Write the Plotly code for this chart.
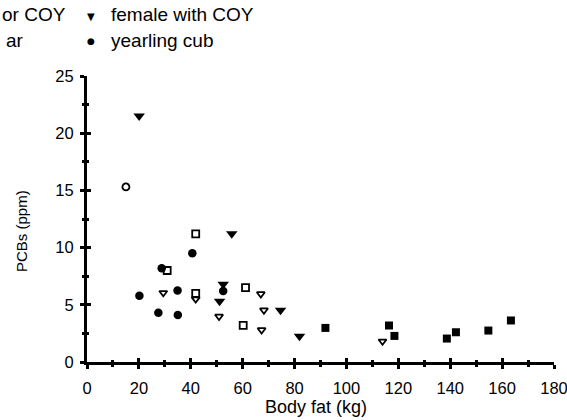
import plotly.graph_objects as go

# ---- data (Body fat kg, PCBs ppm) ----
open_circle_x = [15.0]
open_circle_y = [15.3]

open_square_x = [41.9, 30.9, 41.9, 61.1, 60.2]
open_square_y = [11.2, 8.0, 6.0, 6.5, 3.2]

open_triangle_x = [29.4, 41.9, 50.9, 67.0, 68.2, 67.3, 113.9]
open_triangle_y = [6.05, 5.5, 3.98, 5.95, 4.53, 2.8, 1.81]

female_coy_x = [20.1, 55.8, 52.5, 51.1, 74.6, 81.9]
female_coy_y = [21.5, 11.2, 6.8, 5.3, 4.53, 2.25]

yearling_x = [40.6, 28.8, 20.2, 34.9, 52.5, 27.5, 35.0]
yearling_y = [9.5, 8.2, 5.8, 6.26, 6.2, 4.3, 4.1]

filled_square_x = [91.9, 116.4, 118.5, 138.7, 142.2, 154.7, 163.4]
filled_square_y = [2.98, 3.19, 2.28, 2.05, 2.6, 2.75, 3.63]

x_ticks = [0, 20, 40, 60, 80, 100, 120, 140, 160, 180]
y_ticks = [0, 5, 10, 15, 20, 25]

FONT = "Liberation Sans, Arial, sans-serif"

fig = go.Figure()

def add(x, y, symbol, size, name, lw=0):
    fig.add_trace(go.Scatter(
        x=x, y=y, mode="markers", name=name, showlegend=False,
        marker=dict(symbol=symbol, size=size, color="black",
                    line=dict(color="black", width=lw)),
        xaxis="x", yaxis="y"))

add(open_circle_x, open_circle_y, "circle-open", 7, "open circle", 1.8)
add(open_square_x, open_square_y, "square-open", 7, "open square", 1.8)
add(open_triangle_x, open_triangle_y, "triangle-down-open", 7, "open triangle", 1.8)
add(female_coy_x, female_coy_y, "triangle-down", 10, "female with COY")
add(yearling_x, yearling_y, "circle", 8.5, "yearling cub")
add(filled_square_x, filled_square_y, "square", 8, "filled square")

# invisible trace to realise the overlay axes (inward half of the crossing ticks)
fig.add_trace(go.Scatter(x=[None], y=[None], xaxis="x2", yaxis="y2",
                         showlegend=False, hoverinfo="skip", mode="markers"))

axis_font = dict(family=FONT, size=16.5, color="black")

fig.update_layout(
    width=567, height=420,
    margin=dict(l=87, r=13, t=76, b=58, autoexpand=False),
    paper_bgcolor="white", plot_bgcolor="white",
    font=dict(family=FONT, color="black"),
    xaxis=dict(
        range=[0, 180], tickvals=x_ticks, ticktext=[str(v) for v in x_ticks],
        showline=True, linewidth=3, linecolor="black",
        ticks="outside", ticklen=4, tickwidth=3, tickcolor="black",
        minor=dict(dtick=10, ticks="outside", ticklen=2, tickwidth=3, tickcolor="black"),
        showgrid=False, zeroline=False, tickfont=axis_font,
        ticklabelstandoff=5, ticklabeloverflow="allow", automargin=False,
        fixedrange=True,
    ),
    yaxis=dict(
        range=[0, 25], tickvals=y_ticks, ticktext=[str(v) for v in y_ticks],
        showline=True, linewidth=3, linecolor="black",
        ticks="outside", ticklen=4, tickwidth=3, tickcolor="black",
        minor=dict(dtick=2.5, ticks="outside", ticklen=2, tickwidth=3, tickcolor="black"),
        showgrid=False, zeroline=False, tickfont=axis_font,
        ticklabelstandoff=3, ticklabeloverflow="allow", automargin=False,
        fixedrange=True,
    ),
    xaxis2=dict(
        overlaying="x", anchor="y", side="bottom", range=[0, 180],
        tickvals=x_ticks, showticklabels=False, showline=False, showgrid=False,
        zeroline=False, ticks="inside", ticklen=4, tickwidth=3, tickcolor="black",
        minor=dict(dtick=10, ticks="inside", ticklen=2, tickwidth=3, tickcolor="black"),
        automargin=False, fixedrange=True,
    ),
    yaxis2=dict(
        overlaying="y", anchor="x", side="left", range=[0, 25],
        tickvals=y_ticks, showticklabels=False, showline=False, showgrid=False,
        zeroline=False, ticks="inside", ticklen=4, tickwidth=3, tickcolor="black",
        minor=dict(dtick=2.5, ticks="inside", ticklen=2, tickwidth=3, tickcolor="black"),
        automargin=False, fixedrange=True,
    ),
)

def px_x(p):
    return (p - 87) / 467.0
def px_y(p):
    return (362 - p) / 286.0

# axis titles
fig.add_annotation(text="Body fat (kg)", xref="paper", yref="paper", x=px_x(316), y=px_y(407),
                   xanchor="center", yanchor="middle", showarrow=False,
                   font=dict(family=FONT, size=18, color="black"))
fig.add_annotation(text="PCBs (ppm)", xref="paper", yref="paper", x=px_x(21), y=px_y(231),
                   xanchor="center", yanchor="middle", showarrow=False, textangle=-90,
                   font=dict(family=FONT, size=15, color="black"))

# legend (left column partly outside the picture in the reference)
leg_font = dict(family=FONT, size=19, color="black")
fig.add_annotation(text="or COY", xref="paper", yref="paper", x=px_x(0), y=px_y(15),
                   xanchor="left", yanchor="middle", showarrow=False, font=leg_font)
fig.add_annotation(text="ar", xref="paper", yref="paper", x=px_x(26), y=px_y(40),
                   xanchor="right", yanchor="middle", showarrow=False, font=leg_font)
fig.add_annotation(text="▼", xref="paper", yref="paper", x=px_x(91), y=px_y(16),
                   xanchor="center", yanchor="middle", showarrow=False,
                   font=dict(family="DejaVu Sans", size=10, color="black"))
fig.add_annotation(text="●", xref="paper", yref="paper", x=px_x(91), y=px_y(41),
                   xanchor="center", yanchor="middle", showarrow=False,
                   font=dict(family="DejaVu Sans", size=9, color="black"))
fig.add_annotation(text="female with COY", xref="paper", yref="paper", x=px_x(109), y=px_y(15),
                   xanchor="left", yanchor="middle", showarrow=False, font=leg_font)
fig.add_annotation(text="yearling cub", xref="paper", yref="paper", x=px_x(109), y=px_y(40),
                   xanchor="left", yanchor="middle", showarrow=False, font=leg_font)

fig.write_html(
    "out.html",
    config={"displayModeBar": False},
    post_script="document.body.style.margin='0';document.body.style.overflow='hidden';",
)
